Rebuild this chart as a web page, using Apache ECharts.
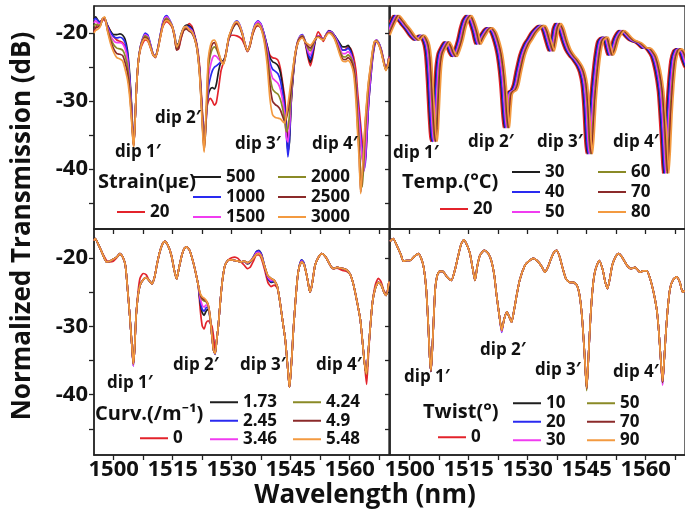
<!DOCTYPE html>
<html><head><meta charset="utf-8">
<script src="https://cdn.jsdelivr.net/npm/echarts@6/dist/echarts.min.js"></script>
<style>html,body{margin:0;padding:0;background:#fff}#c{width:685px;height:525px}</style>
</head><body><div id="c"></div>
<script>
// ---------- axis ticks / labels ----------
const xTicks = [1500,1507.5,1515,1522.5,1530,1537.5,1545,1552.5,1560,1567.5];
const xLabels = [1500,1515,1530,1545,1560];
const yTicks = [-45,-40,-35,-30,-25,-20];
const yLabels = [-40,-30,-20];

// ---------- Strain panel ----------
const strainNames = ['20','500','1000','1500','2000','2500','3000'];
const strainWl = [1495.0,1495.4,1496.0,1496.6,1497.2,1497.7,1498.4,1499.2,1500.0,1500.8,1501.6,
1502.3,1502.9,1503.5,1504.0,1504.5,1504.9,1505.1,1505.4,1505.8,1506.3,
1506.8,1507.3,1508.0,1508.7,1509.4,1510.0,1510.6,1511.2,1511.8,1512.4,
1513.0,1513.5,1514.2,1514.9,1515.5,1516.0,1516.5,1517.1,1517.8,1518.5,
1519.2,1519.9,1520.6,1521.2,1521.8,1522.3,1522.7,1523.0,1523.3,1523.7,
1524.1,1524.6,1525.1,1525.6,1526.1,1526.7,1527.3,1527.9,1528.5,1529.2,
1529.9,1530.6,1531.3,1532.0,1532.7,1533.4,1534.0,1534.6,1535.3,1536.0,
1536.7,1537.4,1538.2,1539.0,1539.7,1540.4,1541.1,1541.8,1542.4,1543.0,
1543.5,1543.9,1544.3,1544.7,1545.1,1545.6,1546.2,1546.8,1547.4,1548.0,
1548.7,1549.4,1550.0,1550.6,1551.3,1552.0,1552.6,1553.3,1554.0,1554.7,
1555.4,1556.1,1556.8,1557.5,1558.2,1558.9,1559.6,1560.3,1561.0,1561.6,
1562.0,1562.4,1562.8,1563.2,1563.6,1564.0,1564.4,1564.8,1565.3,1565.8,
1566.3,1566.8,1567.4,1568.0,1568.6,1569.2,1569.7,1570.0];
const strain20 = [-19.8,-19.2,-18.6,-18.3,-18.0,-18.1,-18.8,-19.7,-20.5,-21.0,-21.2,
-21.4,-22.0,-23.4,-26.2,-30.5,-35.0,-36.0,-33.3,-28.0,-24.0,
-22.4,-21.6,-21.0,-21.2,-22.2,-23.2,-23.6,-22.5,-20.8,-19.2,
-18.5,-18.3,-18.6,-19.2,-20.6,-22.4,-22.3,-20.9,-19.5,-19.0,
-18.6,-19.0,-20.3,-21.8,-24.5,-29.0,-33.0,-35.0,-33.8,-31.0,
-30.0,-29.6,-30.0,-30.6,-30.2,-28.0,-25.5,-24.3,-23.0,-21.0,
-20.3,-20.3,-20.4,-20.6,-21.0,-21.9,-22.7,-22.0,-20.3,-19.2,
-18.9,-19.2,-20.3,-21.8,-23.2,-23.6,-23.7,-24.0,-25.2,-27.5,
-29.5,-33.0,-35.5,-35.0,-30.5,-26.5,-23.3,-21.5,-20.7,-20.4,
-21.5,-23.6,-24.8,-23.5,-21.0,-19.8,-20.3,-21.2,-20.3,-19.6,
-19.8,-20.3,-21.0,-21.8,-22.5,-22.4,-22.0,-22.3,-23.5,-25.5,
-28.5,-31.0,-33.5,-36.0,-37.8,-38.9,-35.0,-30.5,-27.0,-24.0,
-22.0,-21.3,-21.5,-22.3,-23.8,-25.2,-24.5,-23.4];
const strain500 = [-17.9,-17.6,-18.1,-18.4,-17.9,-17.8,-18.8,-19.7,-20.2,-20.2,-20.1,
-20.3,-20.9,-22.5,-25.5,-30.0,-35.0,-36.3,-33.5,-28.0,-24.0,
-22.0,-21.0,-20.2,-20.5,-21.8,-23.0,-23.5,-22.3,-20.5,-18.8,
-17.8,-17.6,-18.2,-19.0,-20.3,-21.7,-21.5,-20.2,-19.2,-18.8,
-18.9,-19.3,-20.5,-22.0,-25.0,-29.5,-33.5,-35.5,-34.0,-30.5,
-29.0,-28.2,-28.0,-28.2,-27.5,-25.5,-24.2,-24.0,-23.2,-21.0,
-19.8,-18.9,-18.5,-18.9,-20.0,-21.6,-22.6,-21.8,-20.0,-18.8,
-18.4,-18.7,-20.0,-21.8,-23.5,-24.2,-24.4,-24.8,-25.8,-28.0,
-30.5,-34.0,-37.5,-36.0,-30.5,-26.5,-23.2,-21.4,-20.6,-20.3,
-21.3,-23.2,-24.3,-23.0,-21.0,-20.4,-20.6,-20.9,-20.2,-19.7,
-19.8,-20.3,-20.9,-21.5,-22.0,-22.0,-21.8,-22.5,-24.5,-27.5,
-30.5,-33.0,-35.5,-38.0,-39.3,-38.0,-34.0,-30.0,-26.5,-23.5,
-21.6,-21.0,-21.5,-22.5,-24.0,-25.3,-24.5,-23.5];
const strain1000 = [-18.1,-17.8,-18.2,-18.5,-17.9,-17.8,-18.9,-19.9,-20.5,-20.7,-20.6,
-20.8,-21.4,-23.0,-26.0,-30.5,-35.2,-36.4,-33.5,-28.0,-24.0,
-22.0,-20.9,-20.0,-20.3,-21.7,-23.0,-23.5,-22.3,-20.4,-18.6,
-17.6,-17.4,-18.0,-18.9,-20.3,-22.0,-21.8,-20.4,-19.3,-19.0,
-19.1,-19.5,-20.6,-22.1,-25.2,-29.8,-34.0,-36.0,-34.5,-31.0,
-28.0,-26.5,-25.5,-25.0,-24.8,-24.5,-24.2,-24.2,-23.2,-21.0,
-19.6,-18.6,-18.2,-18.7,-19.9,-21.6,-22.6,-21.8,-19.9,-18.6,
-18.2,-18.6,-20.0,-22.0,-24.2,-25.3,-25.6,-26.0,-27.0,-29.0,
-31.0,-34.8,-38.2,-35.5,-30.0,-26.2,-23.0,-21.2,-20.4,-20.2,
-21.2,-22.9,-23.8,-22.6,-20.9,-20.4,-20.6,-20.9,-20.2,-19.7,
-19.8,-20.3,-21.0,-21.8,-22.5,-22.5,-22.2,-22.8,-24.5,-27.0,
-30.0,-32.5,-35.0,-37.5,-40.2,-39.0,-35.0,-30.5,-27.0,-23.8,
-21.8,-21.0,-21.4,-22.4,-23.9,-25.3,-24.5,-23.5];
const strain1500 = [-18.5,-18.2,-18.5,-18.6,-17.9,-17.8,-19.1,-20.3,-21.1,-21.4,-21.4,
-21.6,-22.3,-23.8,-26.7,-31.0,-35.4,-36.5,-33.5,-28.0,-24.0,
-22.0,-21.0,-20.2,-20.5,-21.8,-23.0,-23.5,-22.3,-20.5,-18.8,
-17.8,-17.6,-18.1,-19.0,-20.4,-22.2,-22.0,-20.6,-19.5,-19.2,
-19.3,-19.6,-20.7,-22.2,-25.3,-30.0,-34.3,-36.4,-34.8,-31.0,
-26.5,-24.8,-23.7,-23.3,-23.4,-23.8,-24.2,-24.4,-23.2,-20.9,
-19.6,-18.7,-18.3,-18.8,-20.0,-21.6,-22.6,-21.8,-20.0,-18.8,
-18.3,-18.7,-20.2,-22.4,-25.0,-26.6,-27.0,-27.4,-28.3,-30.0,
-32.0,-35.3,-36.0,-33.8,-29.5,-25.9,-22.9,-21.2,-20.5,-20.3,
-21.2,-22.6,-23.2,-22.2,-20.8,-20.4,-20.6,-20.9,-20.2,-19.8,
-19.9,-20.4,-21.2,-22.2,-23.0,-23.0,-22.7,-23.2,-24.6,-27.0,
-30.5,-33.0,-36.0,-38.5,-40.3,-38.0,-33.5,-29.5,-26.3,-23.3,
-21.4,-21.0,-21.5,-22.5,-24.0,-25.3,-24.5,-23.5];
const strain2000 = [-19.0,-18.7,-18.8,-18.8,-17.9,-17.7,-19.3,-20.7,-21.7,-22.2,-22.3,
-22.5,-23.3,-24.8,-27.4,-31.5,-35.5,-36.5,-33.5,-28.0,-24.0,
-22.1,-21.1,-20.4,-20.7,-22.0,-23.1,-23.5,-22.4,-20.6,-19.0,
-18.0,-17.8,-18.2,-19.0,-20.5,-22.3,-22.0,-20.6,-19.5,-19.3,
-19.5,-19.8,-20.8,-22.3,-25.5,-30.3,-34.7,-36.8,-35.0,-30.5,
-25.0,-23.2,-22.3,-22.0,-22.3,-23.2,-24.1,-24.5,-23.2,-20.8,
-19.6,-18.8,-18.5,-19.0,-20.1,-21.7,-22.6,-21.9,-20.1,-19.0,
-18.6,-19.0,-20.5,-23.0,-26.2,-28.2,-28.7,-29.0,-29.8,-31.2,
-33.0,-34.5,-34.0,-32.0,-29.0,-25.7,-22.9,-21.3,-20.6,-20.4,
-21.2,-22.2,-22.6,-21.9,-20.8,-20.5,-20.7,-21.0,-20.3,-19.9,
-20.0,-20.6,-21.5,-22.6,-23.4,-23.5,-23.2,-23.6,-24.8,-27.5,
-32.0,-35.5,-41.0,-42.6,-39.0,-34.5,-31.0,-28.0,-25.5,-23.0,
-21.3,-21.1,-21.6,-22.6,-24.1,-25.4,-24.6,-23.6];
const strain2500 = [-19.5,-19.2,-19.1,-18.9,-17.9,-17.7,-19.5,-21.1,-22.3,-23.0,-23.1,
-23.3,-24.3,-25.8,-28.2,-32.0,-35.6,-36.6,-33.5,-28.0,-24.0,
-22.2,-21.2,-20.6,-20.9,-22.1,-23.2,-23.5,-22.4,-20.7,-19.1,
-18.2,-18.0,-18.4,-19.1,-20.7,-22.5,-22.2,-20.7,-19.6,-19.4,
-19.7,-20.0,-20.9,-22.4,-25.6,-30.5,-35.0,-37.2,-35.0,-29.5,
-24.0,-22.4,-21.6,-21.4,-21.9,-23.0,-24.0,-24.5,-23.2,-20.8,
-19.7,-18.9,-18.6,-19.1,-20.2,-21.7,-22.6,-21.9,-20.2,-19.1,
-18.8,-19.2,-20.7,-23.6,-27.5,-30.0,-30.5,-30.8,-31.3,-32.3,
-33.0,-32.5,-31.5,-30.0,-28.0,-25.3,-22.8,-21.3,-20.7,-20.5,
-21.3,-21.9,-22.2,-21.6,-20.8,-20.5,-20.7,-21.0,-20.3,-19.9,
-20.1,-20.7,-21.7,-22.9,-23.8,-23.9,-23.6,-24.0,-25.2,-28.5,
-33.5,-37.5,-43.4,-41.0,-37.0,-33.0,-30.0,-27.3,-25.0,-22.8,
-21.3,-21.2,-21.7,-22.7,-24.2,-25.4,-24.6,-23.6];
const strain3000 = [-20.0,-19.6,-19.4,-19.0,-17.8,-17.6,-19.6,-21.5,-22.8,-23.6,-23.8,
-24.1,-25.3,-26.8,-29.0,-32.5,-35.8,-36.8,-33.5,-28.0,-24.0,
-22.3,-21.3,-20.8,-21.1,-22.2,-23.2,-23.5,-22.5,-20.8,-19.2,
-18.3,-18.1,-18.4,-19.0,-20.5,-22.0,-21.6,-20.3,-19.2,-19.0,
-19.5,-19.8,-20.8,-22.3,-25.8,-30.8,-35.5,-37.5,-34.5,-28.0,
-23.5,-21.8,-21.1,-21.0,-21.5,-22.8,-24.0,-24.6,-23.3,-20.7,
-19.5,-18.6,-18.3,-18.8,-20.0,-21.6,-22.6,-21.8,-20.0,-18.9,
-18.7,-19.2,-21.0,-24.5,-29.5,-32.0,-32.4,-32.5,-32.6,-33.0,
-33.2,-32.0,-30.5,-28.8,-27.0,-25.0,-22.8,-21.5,-20.9,-20.7,
-21.3,-21.6,-21.8,-21.4,-20.8,-20.6,-20.8,-21.0,-20.4,-20.0,
-20.2,-20.8,-21.9,-23.2,-24.1,-24.2,-24.0,-24.5,-26.0,-30.0,
-34.5,-38.5,-43.6,-40.5,-36.5,-32.5,-29.5,-27.0,-24.8,-22.6,
-21.2,-21.2,-21.7,-22.8,-24.3,-25.5,-24.7,-23.7];

// ---------- Temperature panel (each temperature has its own wavelength axis) ----------
const tempNames = ['20','30','40','50','60','70','80'];
const tempWl20 = [1493.4,1494.2,
1495.0,1495.8,1496.6,1497.5,1498.5,1499.7,1500.5,1501.0,1501.7,1502.2,
1502.9,1503.5,1503.9,1504.3,1504.7,1505.1,1505.4,1505.7,1506.1,1506.5,
1507.0,1507.8,1508.6,1509.3,1509.8,1510.5,1511.2,1512.0,1512.7,1513.3,
1514.2,1515.0,1515.8,1516.6,1517.3,1517.9,1518.7,1519.5,1520.4,1521.3,
1522.0,1522.6,1523.0,1523.4,1523.8,1524.1,1524.5,1525.0,1525.6,1526.2,
1526.8,1527.8,1528.9,1529.8,1530.6,1531.5,1532.2,1532.8,1533.6,1534.4,
1535.2,1535.8,1536.3,1536.9,1537.7,1538.5,1539.4,1540.4,1541.4,1542.3,
1543.0,1543.6,1544.1,1544.5,1544.9,1545.3,1545.8,1546.4,1547.0,1547.6,
1548.3,1548.9,1549.6,1550.2,1550.8,1551.6,1552.4,1553.1,1553.9,1554.8,
1555.6,1556.4,1557.3,1558.1,1558.9,1559.6,1560.4,1561.3,1562.2,1563.0,
1563.5,1563.9,1564.3,1564.7,1565.1,1565.6,1566.2,1566.9,1567.6,1568.4,
1569.1,1569.8,1570.5];
const tempWl30 = [1493.7,1494.5,
1495.3,1496.1,1496.9,1497.8,1498.8,1500.0,1500.8,1501.3,1502.0,1502.5,
1503.2,1503.8,1504.2,1504.6,1505.0,1505.4,1505.7,1506.0,1506.4,1506.8,
1507.3,1508.1,1508.9,1509.6,1510.1,1510.8,1511.5,1512.3,1513.0,1513.6,
1514.5,1515.3,1516.1,1516.9,1517.6,1518.2,1519.0,1519.8,1520.7,1521.6,
1522.3,1522.9,1523.3,1523.7,1524.1,1524.4,1524.8,1525.3,1525.9,1526.5,
1527.1,1528.1,1529.2,1530.1,1530.9,1531.8,1532.5,1533.1,1533.9,1534.7,
1535.5,1536.1,1536.6,1537.2,1538.0,1538.8,1539.7,1540.7,1541.7,1542.6,
1543.3,1543.9,1544.4,1544.8,1545.2,1545.6,1546.1,1546.7,1547.3,1547.9,
1548.6,1549.2,1549.9,1550.5,1551.1,1551.9,1552.7,1553.4,1554.2,1555.1,
1555.9,1556.7,1557.6,1558.4,1559.2,1559.9,1560.7,1561.6,1562.5,1563.3,
1563.8,1564.2,1564.6,1565.0,1565.4,1565.9,1566.5,1567.2,1567.9,1568.7,
1569.4,1570.1,1570.8];
const tempWl40 = [1493.9,1494.7,
1495.5,1496.3,1497.1,1498.0,1499.0,1500.2,1501.0,1501.5,1502.2,1502.7,
1503.4,1504.0,1504.4,1504.8,1505.2,1505.6,1505.9,1506.2,1506.6,1507.0,
1507.5,1508.3,1509.1,1509.8,1510.3,1511.0,1511.7,1512.5,1513.2,1513.8,
1514.7,1515.5,1516.3,1517.1,1517.8,1518.4,1519.2,1520.0,1520.9,1521.8,
1522.5,1523.1,1523.5,1523.9,1524.3,1524.6,1525.0,1525.5,1526.1,1526.7,
1527.3,1528.3,1529.4,1530.3,1531.1,1532.0,1532.7,1533.3,1534.1,1534.9,
1535.7,1536.3,1536.8,1537.4,1538.2,1539.0,1539.9,1540.9,1541.9,1542.8,
1543.5,1544.1,1544.6,1545.0,1545.4,1545.8,1546.3,1546.9,1547.5,1548.1,
1548.8,1549.4,1550.1,1550.7,1551.3,1552.1,1552.9,1553.6,1554.4,1555.3,
1556.1,1556.9,1557.8,1558.6,1559.4,1560.1,1560.9,1561.8,1562.7,1563.5,
1564.0,1564.4,1564.8,1565.2,1565.6,1566.1,1566.7,1567.4,1568.1,1568.9,
1569.6,1570.3,1571.0];
const tempWl50 = [1494.2,1495.0,
1495.8,1496.6,1497.4,1498.3,1499.3,1500.5,1501.3,1501.8,1502.5,1503.0,
1503.7,1504.3,1504.7,1505.1,1505.5,1505.9,1506.2,1506.5,1506.9,1507.3,
1507.8,1508.6,1509.4,1510.1,1510.6,1511.3,1512.0,1512.8,1513.5,1514.1,
1515.0,1515.8,1516.6,1517.4,1518.1,1518.7,1519.5,1520.3,1521.2,1522.1,
1522.8,1523.4,1523.8,1524.2,1524.6,1524.9,1525.3,1525.8,1526.4,1527.0,
1527.6,1528.6,1529.7,1530.6,1531.4,1532.3,1533.0,1533.6,1534.4,1535.2,
1536.0,1536.6,1537.1,1537.7,1538.5,1539.3,1540.2,1541.2,1542.2,1543.1,
1543.8,1544.4,1544.9,1545.3,1545.7,1546.1,1546.6,1547.2,1547.8,1548.4,
1549.1,1549.7,1550.4,1551.0,1551.6,1552.4,1553.2,1553.9,1554.7,1555.6,
1556.4,1557.2,1558.1,1558.9,1559.7,1560.4,1561.2,1562.1,1563.0,1563.8,
1564.3,1564.7,1565.1,1565.5,1565.9,1566.4,1567.0,1567.7,1568.4,1569.2,
1569.9,1570.6,1571.3];
const tempWl60 = [1494.5,1495.3,
1496.1,1496.9,1497.7,1498.6,1499.6,1500.8,1501.6,1502.1,1502.8,1503.3,
1504.0,1504.6,1505.0,1505.4,1505.8,1506.2,1506.5,1506.8,1507.2,1507.6,
1508.1,1508.9,1509.7,1510.4,1510.9,1511.6,1512.3,1513.1,1513.8,1514.4,
1515.3,1516.1,1516.9,1517.7,1518.4,1519.0,1519.8,1520.6,1521.5,1522.4,
1523.1,1523.7,1524.1,1524.5,1524.9,1525.2,1525.6,1526.1,1526.7,1527.3,
1527.9,1528.9,1530.0,1530.9,1531.7,1532.6,1533.3,1533.9,1534.7,1535.5,
1536.3,1536.9,1537.4,1538.0,1538.8,1539.6,1540.5,1541.5,1542.5,1543.4,
1544.1,1544.7,1545.2,1545.6,1546.0,1546.4,1546.9,1547.5,1548.1,1548.7,
1549.4,1550.0,1550.7,1551.3,1551.9,1552.7,1553.5,1554.2,1555.0,1555.9,
1556.7,1557.5,1558.4,1559.2,1560.0,1560.7,1561.5,1562.4,1563.3,1564.1,
1564.6,1565.0,1565.4,1565.8,1566.2,1566.7,1567.3,1568.0,1568.7,1569.5,
1570.2,1570.9,1571.6];
const tempWl70 = [1494.7,1495.5,
1496.3,1497.1,1497.9,1498.8,1499.8,1501.0,1501.8,1502.3,1503.0,1503.5,
1504.2,1504.8,1505.2,1505.6,1506.0,1506.4,1506.7,1507.0,1507.4,1507.8,
1508.3,1509.1,1509.9,1510.6,1511.1,1511.8,1512.5,1513.3,1514.0,1514.6,
1515.5,1516.3,1517.1,1517.9,1518.6,1519.2,1520.0,1520.8,1521.7,1522.6,
1523.3,1523.9,1524.3,1524.7,1525.1,1525.4,1525.8,1526.3,1526.9,1527.5,
1528.1,1529.1,1530.2,1531.1,1531.9,1532.8,1533.5,1534.1,1534.9,1535.7,
1536.5,1537.1,1537.6,1538.2,1539.0,1539.8,1540.7,1541.7,1542.7,1543.6,
1544.3,1544.9,1545.4,1545.8,1546.2,1546.6,1547.1,1547.7,1548.3,1548.9,
1549.6,1550.2,1550.9,1551.5,1552.1,1552.9,1553.7,1554.4,1555.2,1556.1,
1556.9,1557.7,1558.6,1559.4,1560.2,1560.9,1561.7,1562.6,1563.5,1564.3,
1564.8,1565.2,1565.6,1566.0,1566.4,1566.9,1567.5,1568.2,1568.9,1569.7,
1570.4,1571.1,1571.8];
const tempWl80 = [1495.0,1495.8,
1496.6,1497.4,1498.2,1499.1,1500.1,1501.3,1502.1,1502.6,1503.3,1503.8,
1504.5,1505.1,1505.5,1505.9,1506.3,1506.7,1507.0,1507.3,1507.7,1508.1,
1508.6,1509.4,1510.2,1510.9,1511.4,1512.1,1512.8,1513.6,1514.3,1514.9,
1515.8,1516.6,1517.4,1518.2,1518.9,1519.5,1520.3,1521.1,1522.0,1522.9,
1523.6,1524.2,1524.6,1525.0,1525.4,1525.7,1526.1,1526.6,1527.2,1527.8,
1528.4,1529.4,1530.5,1531.4,1532.2,1533.1,1533.8,1534.4,1535.2,1536.0,
1536.8,1537.4,1537.9,1538.5,1539.3,1540.1,1541.0,1542.0,1543.0,1543.9,
1544.6,1545.2,1545.7,1546.1,1546.5,1546.9,1547.4,1548.0,1548.6,1549.2,
1549.9,1550.5,1551.2,1551.8,1552.4,1553.2,1554.0,1554.7,1555.5,1556.4,
1557.2,1558.0,1558.9,1559.7,1560.5,1561.2,1562.0,1562.9,1563.8,1564.6,
1565.1,1565.5,1565.9,1566.3,1566.7,1567.2,1567.8,1568.5,1569.2,1570.0,
1570.7,1571.4,1572.1];
const tempDb = [-20.3,-19.2,
-18.2,-17.4,-17.9,-18.6,-19.3,-20.3,-20.8,-21.0,-20.5,-20.3,
-20.8,-21.8,-23.5,-27.0,-31.5,-35.0,-35.9,-34.0,-29.0,-25.0,
-23.0,-22.0,-21.3,-22.0,-22.8,-23.4,-22.5,-21.0,-19.2,-18.1,
-17.4,-18.3,-19.8,-21.6,-20.8,-20.2,-19.5,-19.2,-19.8,-21.3,
-23.0,-25.5,-28.0,-31.5,-33.9,-31.5,-29.0,-28.6,-28.4,-27.5,
-25.7,-23.2,-21.6,-20.8,-20.0,-19.4,-19.0,-18.9,-19.6,-21.2,
-22.6,-21.0,-19.3,-18.6,-19.4,-21.0,-22.4,-23.3,-24.0,-24.8,
-25.8,-27.5,-31.0,-35.5,-37.7,-35.0,-30.0,-26.0,-23.0,-21.2,
-20.7,-20.6,-22.0,-23.2,-22.5,-20.9,-20.0,-19.6,-20.0,-20.6,
-21.0,-21.2,-21.4,-21.8,-22.2,-22.2,-22.6,-23.5,-25.5,-28.5,
-32.5,-36.5,-40.6,-37.0,-32.0,-27.5,-24.0,-22.6,-22.3,-22.8,
-24.0,-25.0,-25.5];

// ---------- Curvature panel ----------
const curvNames = ['0','1.73','2.45','3.46','4.24','4.9','5.48'];
const curvWl = [1495.0,1495.3,1496.3,1497.3,1498.2,1499.0,1499.9,1500.8,1501.6,1502.4,
1503.0,1503.6,1504.1,1504.6,1505.0,1505.3,1505.7,1506.2,1506.7,1507.5,
1508.3,1509.0,1509.7,1510.4,1511.0,1511.7,1512.4,1513.0,1513.8,1514.7,
1515.4,1516.0,1516.6,1517.3,1517.9,1518.5,1519.3,1520.2,1520.9,1521.5,
1522.0,1522.5,1523.0,1523.5,1524.0,1524.5,1525.0,1525.4,1525.8,1526.2,
1526.6,1527.1,1527.6,1528.3,1529.2,1530.0,1530.8,1531.6,1532.4,1533.2,
1534.0,1534.8,1535.6,1536.3,1536.9,1537.6,1538.4,1539.2,1540.0,1540.8,
1541.6,1542.3,1542.9,1543.6,1544.1,1544.5,1544.7,1545.0,1545.4,1545.7,
1546.2,1546.7,1547.2,1547.8,1548.4,1549.1,1549.6,1549.9,1550.4,1551.2,
1552.0,1552.9,1553.8,1554.6,1555.3,1555.9,1556.8,1557.6,1558.5,1559.3,
1560.2,1561.0,1561.9,1562.7,1563.3,1563.8,1564.3,1564.7,1565.2,1565.8,
1566.5,1567.3,1568.0,1568.7,1569.3,1570.0];
const curv0 = [-17.5,-17.2,-18.3,-19.5,-20.4,-20.6,-20.5,-20.0,-19.4,-20.0,
-21.2,-25.0,-28.5,-32.5,-35.6,-33.5,-28.5,-25.0,-23.0,-22.3,
-22.5,-23.3,-23.8,-22.8,-21.0,-19.2,-18.0,-17.6,-18.2,-19.7,
-21.8,-23.1,-21.5,-19.7,-18.7,-18.4,-18.9,-20.6,-22.3,-24.0,
-27.5,-29.9,-30.4,-29.5,-29.2,-29.5,-30.0,-31.5,-33.5,-32.0,
-30.0,-26.5,-23.5,-21.1,-20.3,-20.0,-19.9,-20.1,-20.6,-21.1,
-21.6,-21.3,-20.4,-19.6,-19.6,-20.2,-21.8,-23.6,-24.2,-24.0,
-24.4,-26.5,-29.0,-31.8,-35.0,-37.8,-38.8,-37.0,-33.5,-30.4,
-26.5,-23.1,-21.3,-20.6,-21.0,-22.6,-24.2,-25.0,-24.0,-21.1,
-20.0,-19.4,-19.8,-20.6,-21.3,-21.6,-21.5,-21.7,-21.9,-22.0,
-22.5,-24.0,-26.5,-29.0,-32.5,-35.5,-38.5,-35.0,-30.4,-26.5,
-24.0,-23.0,-23.5,-24.8,-25.3,-23.5];
const curv173 = [-17.5,-17.2,-18.3,-19.6,-20.6,-20.5,-20.2,-19.9,-19.4,-20.0,
-21.2,-25.0,-28.5,-32.5,-35.5,-33.5,-28.5,-25.5,-24.0,-23.2,
-22.9,-23.3,-23.8,-22.8,-21.0,-19.2,-18.0,-17.6,-18.2,-19.7,
-21.8,-23.1,-21.5,-19.7,-18.7,-18.4,-18.9,-20.6,-22.3,-24.0,
-26.5,-28.0,-28.4,-27.8,-27.5,-28.8,-31.5,-33.5,-34.0,-32.0,
-30.0,-26.5,-23.5,-21.1,-20.3,-20.3,-20.4,-20.5,-20.6,-20.5,
-20.9,-20.6,-19.8,-19.1,-18.9,-19.5,-21.3,-23.0,-23.6,-23.5,
-24.2,-26.5,-29.0,-31.8,-35.0,-37.8,-38.9,-37.0,-33.5,-30.4,
-26.5,-23.1,-21.2,-20.3,-20.8,-22.6,-24.2,-25.0,-24.0,-21.1,
-20.0,-19.4,-19.8,-20.6,-21.3,-21.6,-21.4,-21.5,-21.6,-21.8,
-22.5,-24.0,-26.5,-29.0,-32.5,-35.5,-37.0,-34.0,-30.4,-26.5,
-24.5,-23.6,-23.9,-25.0,-25.5,-23.5];
const curv245 = [-17.5,-17.2,-18.3,-19.6,-20.6,-20.5,-20.2,-19.9,-19.4,-20.0,
-21.2,-25.0,-28.5,-32.5,-35.8,-33.5,-28.5,-25.5,-24.0,-23.2,
-22.9,-23.3,-23.8,-22.8,-21.0,-19.2,-18.0,-17.6,-18.2,-19.7,
-21.8,-23.1,-21.5,-19.7,-18.7,-18.4,-18.9,-20.6,-22.3,-24.0,
-26.2,-27.5,-27.8,-27.3,-27.2,-28.7,-31.5,-33.5,-34.1,-32.0,
-30.0,-26.5,-23.5,-21.1,-20.3,-20.3,-20.4,-20.5,-20.6,-20.5,
-20.8,-20.5,-19.8,-19.1,-19.0,-19.6,-21.3,-22.9,-23.5,-23.4,
-24.2,-26.5,-29.0,-31.8,-35.0,-37.8,-38.9,-37.0,-33.5,-30.4,
-26.5,-23.1,-21.2,-20.3,-20.8,-22.6,-24.2,-25.0,-24.0,-21.1,
-20.0,-19.4,-19.8,-20.6,-21.3,-21.6,-21.4,-21.5,-21.6,-21.8,
-22.5,-24.0,-26.5,-29.0,-32.5,-35.3,-36.5,-34.0,-30.4,-26.5,
-24.5,-23.6,-23.9,-25.0,-25.5,-23.5];
const curv346 = [-17.5,-17.2,-18.3,-19.6,-20.6,-20.5,-20.2,-19.9,-19.4,-20.0,
-21.2,-25.0,-28.5,-32.5,-35.8,-33.5,-28.5,-25.5,-24.0,-23.2,
-22.9,-23.3,-23.8,-22.8,-21.0,-19.2,-18.0,-17.6,-18.2,-19.7,
-21.8,-23.1,-21.5,-19.7,-18.7,-18.4,-18.9,-20.6,-22.3,-24.0,
-25.8,-26.9,-27.2,-26.9,-27.0,-28.6,-31.5,-33.5,-34.0,-32.0,
-30.0,-26.5,-23.5,-21.1,-20.3,-20.3,-20.4,-20.5,-20.6,-20.5,
-20.8,-20.5,-19.9,-19.3,-19.2,-19.7,-21.3,-22.8,-23.3,-23.3,
-24.2,-26.5,-29.0,-31.8,-35.0,-37.8,-38.9,-37.0,-33.5,-30.4,
-26.5,-23.1,-21.3,-20.5,-20.9,-22.6,-24.2,-25.0,-24.0,-21.1,
-20.0,-19.4,-19.8,-20.6,-21.3,-21.6,-21.4,-21.5,-21.6,-21.8,
-22.5,-24.0,-26.5,-29.0,-32.5,-35.3,-36.5,-34.0,-30.4,-26.5,
-24.5,-23.6,-23.9,-25.0,-25.5,-23.5];
const curv424 = [-17.5,-17.2,-18.3,-19.6,-20.6,-20.5,-20.2,-19.9,-19.4,-20.0,
-21.2,-25.0,-28.5,-32.5,-35.5,-33.5,-28.5,-25.5,-24.0,-23.2,
-22.9,-23.3,-23.8,-22.8,-21.0,-19.2,-18.0,-17.6,-18.2,-19.7,
-21.8,-23.1,-21.5,-19.7,-18.7,-18.4,-18.9,-20.6,-22.3,-24.0,
-25.4,-26.1,-26.3,-26.4,-26.9,-28.5,-31.5,-33.5,-34.0,-32.0,
-30.0,-26.5,-23.5,-21.1,-20.3,-20.3,-20.4,-20.5,-20.6,-20.5,
-20.7,-20.5,-20.0,-19.5,-19.4,-19.9,-21.3,-22.6,-23.0,-23.3,
-24.2,-26.5,-29.0,-31.8,-35.0,-37.8,-38.9,-37.0,-33.5,-30.4,
-26.5,-23.1,-21.3,-20.6,-21.0,-22.6,-24.2,-25.0,-24.0,-21.1,
-20.0,-19.4,-19.8,-20.6,-21.3,-21.6,-21.4,-21.5,-21.6,-21.8,
-22.5,-24.0,-26.5,-29.0,-32.5,-35.5,-37.0,-34.0,-30.4,-26.5,
-24.5,-23.6,-23.9,-25.0,-25.5,-23.5];
const curv49 = [-17.5,-17.2,-18.3,-19.6,-20.6,-20.5,-20.2,-19.9,-19.4,-20.0,
-21.2,-25.0,-28.5,-32.5,-35.5,-33.5,-28.5,-25.5,-24.0,-23.2,
-22.9,-23.3,-23.8,-22.8,-21.0,-19.2,-18.0,-17.6,-18.2,-19.7,
-21.8,-23.1,-21.5,-19.7,-18.7,-18.4,-18.9,-20.6,-22.3,-24.0,
-25.3,-25.9,-26.1,-26.3,-26.8,-28.5,-31.5,-33.5,-34.0,-32.0,
-30.0,-26.5,-23.5,-21.1,-20.3,-20.3,-20.4,-20.5,-20.6,-20.5,
-20.7,-20.5,-20.0,-19.5,-19.4,-19.9,-21.3,-22.6,-23.0,-23.3,
-24.2,-26.5,-29.0,-31.8,-35.0,-37.8,-38.9,-37.0,-33.5,-30.4,
-26.5,-23.1,-21.3,-20.6,-21.0,-22.6,-24.2,-25.0,-24.0,-21.1,
-20.0,-19.4,-19.8,-20.6,-21.3,-21.6,-21.4,-21.5,-21.6,-21.8,
-22.5,-24.0,-26.5,-29.0,-32.5,-35.5,-37.0,-34.0,-30.4,-26.5,
-24.5,-23.6,-23.9,-25.0,-25.5,-23.5];
const curv548 = [-17.5,-17.2,-18.3,-19.6,-20.6,-20.5,-20.2,-19.9,-19.4,-20.0,
-21.2,-25.0,-28.5,-32.5,-35.5,-33.5,-28.5,-25.5,-24.0,-23.2,
-22.9,-23.3,-23.8,-22.8,-21.0,-19.2,-18.0,-17.6,-18.2,-19.7,
-21.8,-23.1,-21.5,-19.7,-18.7,-18.4,-18.9,-20.6,-22.3,-24.0,
-25.2,-25.7,-25.9,-26.2,-26.8,-28.5,-31.5,-33.5,-34.0,-32.0,
-30.0,-26.5,-23.5,-21.1,-20.3,-20.3,-20.4,-20.5,-20.6,-20.5,
-20.7,-20.5,-20.0,-19.5,-19.4,-19.9,-21.3,-22.6,-23.0,-23.3,
-24.2,-26.5,-29.0,-31.8,-35.0,-37.8,-38.9,-37.0,-33.5,-30.4,
-26.5,-23.1,-21.3,-20.6,-21.0,-22.6,-24.2,-25.0,-24.0,-21.1,
-20.0,-19.4,-19.8,-20.6,-21.3,-21.6,-21.4,-21.5,-21.6,-21.8,
-22.5,-24.0,-26.5,-29.0,-32.5,-35.5,-37.0,-34.0,-30.4,-26.5,
-24.5,-23.6,-23.9,-25.0,-25.5,-23.5];

// ---------- Twist panel ----------
const twistNames = ['0','10','20','30','50','70','90'];
const twistWl = [1495.0,1495.8,1496.8,1497.8,1498.4,1499.3,1500.1,1501.2,1502.2,1503.0,
1503.6,1504.2,1504.7,1505.1,1505.4,1505.7,1506.1,1506.5,1507.0,1507.6,
1508.4,1509.5,1510.6,1511.5,1512.3,1513.1,1513.8,1514.6,1515.3,1516.0,
1516.6,1517.2,1517.9,1519.0,1520.0,1520.8,1521.5,1522.1,1522.8,1523.4,
1524.0,1524.7,1525.3,1525.9,1526.5,1527.2,1528.0,1529.3,1530.3,1531.4,
1532.7,1533.6,1534.4,1535.2,1535.9,1536.7,1537.4,1538.1,1538.8,1539.7,
1540.7,1541.6,1542.5,1543.2,1543.8,1544.4,1545.0,1545.5,1546.0,1546.6,
1547.2,1548.2,1549.1,1549.7,1550.3,1550.9,1551.5,1552.3,1553.1,1553.9,
1554.7,1555.5,1556.3,1557.3,1558.0,1558.6,1559.4,1560.3,1561.1,1562.0,
1562.8,1563.3,1563.8,1564.3,1564.7,1565.1,1565.6,1566.2,1567.0,1567.9,
1568.7,1569.4,1570.0];
const twist0 = [-17.6,-17.2,-18.3,-19.6,-20.5,-20.4,-20.4,-19.8,-19.4,-20.2,
-21.5,-24.5,-29.5,-34.5,-36.6,-34.0,-29.0,-24.5,-22.6,-22.0,
-22.0,-22.8,-23.3,-21.8,-19.8,-18.0,-17.4,-18.2,-19.3,-21.5,
-23.3,-21.2,-19.6,-18.9,-19.4,-20.5,-22.5,-25.5,-28.5,-30.6,
-29.0,-27.9,-28.6,-29.4,-27.8,-25.5,-23.2,-21.1,-20.5,-20.1,
-20.6,-21.3,-22.1,-21.3,-20.2,-19.2,-18.9,-19.8,-21.3,-23.0,
-23.6,-23.6,-24.0,-25.5,-28.5,-33.5,-39.1,-34.0,-28.5,-24.0,
-21.8,-20.4,-21.8,-23.5,-24.5,-23.0,-21.1,-19.9,-19.4,-19.8,
-20.6,-21.3,-21.6,-21.4,-21.8,-22.1,-21.9,-21.9,-23.0,-25.0,
-27.5,-30.4,-34.5,-38.2,-35.0,-31.3,-27.5,-24.5,-23.2,-22.8,
-23.6,-25.0,-24.8];
const twist10 = [-17.6,-17.2,-18.3,-19.6,-20.5,-20.4,-20.4,-19.8,-19.4,-20.2,
-21.5,-24.5,-29.5,-34.5,-36.6,-34.0,-29.0,-24.5,-22.6,-22.0,
-22.0,-22.8,-23.3,-21.8,-19.8,-18.0,-17.4,-18.2,-19.3,-21.5,
-23.3,-21.2,-19.6,-18.9,-19.4,-20.5,-22.5,-25.5,-28.5,-30.6,
-29.0,-27.9,-28.6,-29.4,-27.8,-25.5,-23.2,-21.1,-20.5,-20.1,
-20.6,-21.3,-22.1,-21.3,-20.2,-19.2,-18.9,-19.8,-21.3,-23.0,
-23.6,-23.6,-24.0,-25.5,-28.5,-33.5,-39.1,-34.0,-28.5,-24.0,
-21.8,-20.4,-21.8,-23.5,-24.5,-23.0,-21.1,-19.9,-19.4,-19.8,
-20.6,-21.3,-21.6,-21.4,-21.8,-22.1,-21.9,-21.9,-23.0,-25.0,
-27.5,-30.4,-34.5,-38.2,-35.0,-31.3,-27.5,-24.5,-23.2,-22.8,
-23.6,-25.0,-24.8];
const twist20 = [-17.6,-17.2,-18.3,-19.6,-20.5,-20.4,-20.4,-19.8,-19.4,-20.2,
-21.5,-24.5,-29.5,-34.5,-36.6,-34.0,-29.0,-24.5,-22.6,-22.0,
-22.0,-22.8,-23.3,-21.8,-19.8,-18.0,-17.4,-18.2,-19.3,-21.5,
-23.3,-21.2,-19.6,-18.9,-19.4,-20.5,-22.5,-25.5,-28.5,-30.9,
-29.0,-27.9,-28.6,-29.4,-27.8,-25.5,-23.2,-21.1,-20.5,-20.1,
-20.6,-21.3,-22.1,-21.3,-20.2,-19.2,-18.9,-19.8,-21.3,-23.0,
-23.6,-23.6,-24.0,-25.5,-28.5,-33.5,-39.1,-34.0,-28.5,-24.0,
-21.8,-20.4,-21.8,-23.5,-24.5,-23.0,-21.1,-19.9,-19.4,-19.8,
-20.6,-21.3,-21.6,-21.4,-21.8,-22.1,-21.9,-21.9,-23.0,-25.0,
-27.5,-30.4,-34.5,-38.4,-35.0,-31.3,-27.5,-24.5,-23.2,-22.8,
-23.6,-25.0,-24.8];
const twist30 = [-17.6,-17.2,-18.3,-19.6,-20.5,-20.4,-20.4,-19.8,-19.4,-20.2,
-21.5,-24.5,-29.5,-34.5,-36.6,-34.0,-29.0,-24.5,-22.6,-22.0,
-22.0,-22.8,-23.3,-21.8,-19.8,-18.0,-17.4,-18.2,-19.3,-21.5,
-23.3,-21.2,-19.6,-18.9,-19.4,-20.5,-22.5,-25.5,-28.5,-30.8,
-29.0,-27.9,-28.6,-29.4,-27.8,-25.5,-23.2,-21.1,-20.5,-20.1,
-20.6,-21.3,-22.1,-21.3,-20.2,-19.2,-18.9,-19.8,-21.3,-23.0,
-23.6,-23.6,-24.0,-25.5,-28.5,-33.5,-39.1,-34.0,-28.5,-24.0,
-21.8,-20.4,-21.8,-23.5,-24.5,-23.0,-21.1,-19.9,-19.4,-19.8,
-20.6,-21.3,-21.6,-21.4,-21.8,-22.1,-21.9,-21.9,-23.0,-25.0,
-27.5,-30.4,-34.5,-38.6,-35.0,-31.3,-27.5,-24.5,-23.2,-22.8,
-23.6,-25.0,-24.8];
const twist50 = [-17.6,-17.2,-18.3,-19.6,-20.5,-20.4,-20.4,-19.8,-19.4,-20.2,
-21.5,-24.5,-29.5,-34.5,-36.6,-34.0,-29.0,-24.5,-22.6,-22.0,
-22.0,-22.8,-23.3,-21.8,-19.8,-18.0,-17.4,-18.2,-19.3,-21.5,
-23.3,-21.2,-19.6,-18.9,-19.4,-20.5,-22.5,-25.5,-28.5,-30.6,
-29.0,-27.9,-28.6,-29.4,-27.8,-25.5,-23.2,-21.1,-20.5,-20.1,
-20.6,-21.3,-22.1,-21.3,-20.2,-19.2,-18.9,-19.8,-21.3,-23.0,
-23.6,-23.6,-24.0,-25.5,-28.5,-33.5,-39.4,-34.0,-28.5,-24.0,
-21.8,-20.4,-21.8,-23.5,-24.5,-23.0,-21.1,-19.9,-19.4,-19.8,
-20.6,-21.3,-21.6,-21.4,-21.8,-22.1,-21.9,-21.9,-23.0,-25.0,
-27.5,-30.4,-34.5,-38.2,-35.0,-31.3,-27.5,-24.5,-23.2,-22.8,
-23.6,-25.0,-24.8];
const twist70 = [-17.6,-17.2,-18.3,-19.6,-20.5,-20.4,-20.4,-19.8,-19.4,-20.2,
-21.5,-24.5,-29.5,-34.5,-36.6,-34.0,-29.0,-24.5,-22.6,-22.0,
-22.0,-22.8,-23.3,-21.8,-19.8,-18.0,-17.4,-18.2,-19.3,-21.5,
-23.3,-21.2,-19.6,-18.9,-19.4,-20.5,-22.5,-25.5,-28.5,-30.6,
-29.0,-27.9,-28.6,-29.4,-27.8,-25.5,-23.2,-21.1,-20.5,-20.1,
-20.6,-21.3,-22.1,-21.3,-20.2,-19.2,-18.9,-19.8,-21.3,-23.0,
-23.6,-23.6,-24.0,-25.5,-28.5,-33.5,-39.1,-34.0,-28.5,-24.0,
-21.8,-20.4,-21.8,-23.5,-24.5,-23.0,-21.1,-19.9,-19.4,-19.8,
-20.6,-21.3,-21.6,-21.4,-21.8,-22.1,-21.9,-21.9,-23.0,-25.0,
-27.5,-30.4,-34.5,-38.2,-35.0,-31.3,-27.5,-24.5,-23.2,-22.8,
-23.6,-25.0,-24.8];
const twist90 = [-17.6,-17.2,-18.3,-19.6,-20.5,-20.4,-20.4,-19.8,-19.4,-20.2,
-21.5,-24.5,-29.5,-34.5,-36.4,-34.0,-29.0,-24.5,-22.6,-22.0,
-22.0,-22.8,-23.3,-21.8,-19.8,-18.0,-17.4,-18.2,-19.3,-21.5,
-23.3,-21.2,-19.6,-18.9,-19.4,-20.5,-22.5,-25.5,-28.5,-30.6,
-29.0,-27.9,-28.6,-29.4,-27.8,-25.5,-23.2,-21.1,-20.5,-20.1,
-20.6,-21.3,-22.1,-21.3,-20.2,-19.2,-18.9,-19.8,-21.3,-23.0,
-23.6,-23.6,-24.0,-25.5,-28.5,-33.5,-39.0,-34.0,-28.5,-24.0,
-21.8,-20.4,-21.8,-23.5,-24.5,-23.0,-21.1,-19.9,-19.4,-19.8,
-20.6,-21.3,-21.6,-21.4,-21.8,-22.1,-21.9,-21.9,-23.0,-25.0,
-27.5,-30.4,-34.5,-38.0,-35.0,-31.3,-27.5,-24.5,-23.2,-22.8,
-23.6,-25.0,-24.8];

// ---------- drawing ----------
const FONT = '"Open Sans","Noto Sans","DejaVu Sans",sans-serif';
const COLORS = ['#e3232b','#1e1e1e','#2a2af0','#f03cf0','#8a8a26','#8b2a2a','#f39a40'];
const AX = '#222';

const gridsDef = [
  {left:94, top:6, width:295, height:223},
  {left:390, top:6, width:295, height:223},
  {left:94, top:229, width:295, height:226},
  {left:390, top:229, width:295, height:226}
];
const yMaxs = [-16, -16, -15.8, -15.8];

const chart = echarts.init(document.getElementById('c'), null, {renderer:'canvas'});

const grid = gridsDef.map(g => Object.assign({show:true, borderColor:AX, borderWidth:1.3, backgroundColor:'transparent'}, g));
const xAxis = gridsDef.map((g,i) => ({
  type:'value', gridIndex:i, min:1495, max:1570,
  axisLine:{show:true, onZero:false, lineStyle:{color:AX, width:1.5}},
  axisTick:{show:true, inside:false, length:5, customValues:xTicks, lineStyle:{color:AX, width:1.3}},
  axisLabel:{show:i>=2, customValues:xLabels, margin:4, fontSize:22, fontWeight:'bold', fontFamily:FONT, color:'#111',
    formatter:v => String(v)},
  splitLine:{show:false}
}));
const yAxis = gridsDef.map((g,i) => ({
  type:'value', gridIndex:i, min:-48.8, max:yMaxs[i],
  axisLine:{show:true, onZero:false, lineStyle:{color:AX, width:1.5}},
  axisTick:{show:true, inside:false, length:5, customValues:yTicks, lineStyle:{color:AX, width:1.3}},
  axisLabel:{show:i%2===0, customValues:yLabels, margin:6, fontSize:22, fontWeight:'bold', fontFamily:FONT, color:'#111',
    formatter:v => String(v)},
  splitLine:{show:false}
}));

const series = [];
function addPanel(pi, prefix, names, wlList, dbList){
  names.forEach((n,k) => {
    const xs = wlList[k], ys = dbList[k];
    series.push({
      type:'line', name:prefix+'|'+n, xAxisIndex:pi, yAxisIndex:pi,
      data: xs.map((x,j) => [x, ys[j]]),
      symbol:'none', showSymbol:false, smooth:0.2, clip:true,
      lineStyle:{color:COLORS[k], width:1.7}, itemStyle:{color:COLORS[k]},
      z:2+k, animation:false, silent:true
    });
  });
}
addPanel(0,'S',strainNames,[strainWl,strainWl,strainWl,strainWl,strainWl,strainWl,strainWl],
  [strain20,strain500,strain1000,strain1500,strain2000,strain2500,strain3000]);
addPanel(1,'T',tempNames,[tempWl20,tempWl30,tempWl40,tempWl50,tempWl60,tempWl70,tempWl80],
  [tempDb,tempDb,tempDb,tempDb,tempDb,tempDb,tempDb]);
addPanel(2,'C',curvNames,[curvWl,curvWl,curvWl,curvWl,curvWl,curvWl,curvWl],
  [curv0,curv173,curv245,curv346,curv424,curv49,curv548]);
addPanel(3,'W',twistNames,[twistWl,twistWl,twistWl,twistWl,twistWl,twistWl,twistWl],
  [twist0,twist10,twist20,twist30,twist50,twist70,twist90]);

function legendSet(prefix, names, c1, c1Top, c2, c3, cTop, lh){
  const base = {orient:'vertical', padding:0, itemGap:0, itemWidth:28, itemHeight:2, icon:'rect', selectedMode:false,
    formatter:n => n.split('|')[1],
    textStyle:{fontSize:17, fontWeight:'bold', fontFamily:FONT, color:'#111', lineHeight:lh}};
  return [
    Object.assign({}, base, {left:c1, top:c1Top, data:[prefix+'|'+names[0]]}),
    Object.assign({}, base, {left:c2, top:cTop, data:names.slice(1,4).map(n=>prefix+'|'+n)}),
    Object.assign({}, base, {left:c3, top:cTop, data:names.slice(4,7).map(n=>prefix+'|'+n)})
  ];
}
const legend = [].concat(
  legendSet('S', strainNames, 117, 202, 193, 278, 167, 20),
  legendSet('T', tempNames, 440, 199, 512, 598, 162, 20),
  legendSet('C', curvNames, 140, 429, 210, 293, 393, 18.5),
  legendSet('W', twistNames, 438, 428, 513, 587, 394, 18.5)
);

function txt(t, x, y, size, align, rot){
  return {type:'text', x:x, y:y, rotation:rot||0, silent:true, z:100,
    style:{text:t, fontSize:size, fontWeight:'bold', fontFamily:FONT, fill:'#111',
      align:align||'center', verticalAlign:'middle', textAlign:align||'center', textVerticalAlign:'middle'}};
}
const dipLabels = ['dip 1\u2032','dip 2\u2032','dip 3\u2032','dip 4\u2032'];
const dipPos = [
  [[138,152],[178,118],[258,144],[335,144]],
  [[416,153],[491,142],[560,142],[636,142]],
  [[130,383],[196,365],[263,365],[339,365]],
  [[427,377],[503,350],[558,370],[636,372]]
];
const graphic = [
  txt('Normalized Transmission (dB)', 23, 226, 26, 'center', Math.PI/2),
  txt('Wavelength (nm)', 365, 496, 26, 'center'),
  txt('Strain(\u03bc\u03b5)', 98, 182, 20, 'left'),
  txt('Temp.(\u00b0C)', 402, 182, 20, 'left'),
  txt('Curv.(/m\u207b\u00b9)', 95, 414, 20, 'left'),
  txt('Twist(\u00b0)', 423, 412, 20, 'left')
];
dipPos.forEach(p => p.forEach((xy,k) => graphic.push(txt(dipLabels[k], xy[0], xy[1], 17, 'center'))));

chart.setOption({
  animation:false,
  backgroundColor:'#ffffff',
  textStyle:{fontFamily:FONT},
  grid, xAxis, yAxis, series, legend, graphic
});
</script>
</body></html>
